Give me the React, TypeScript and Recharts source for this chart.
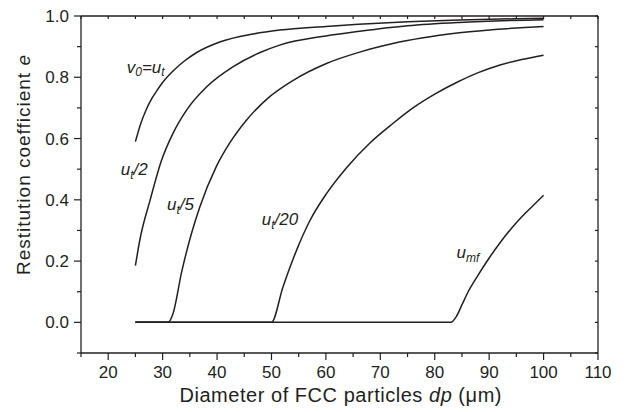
import { LineChart, Line, XAxis, YAxis, ReferenceDot } from "recharts";

const INK = "#231f20";
const FONT = "'Liberation Sans', Arial, Helvetica, sans-serif";

// v0 = ut
const dpA = [25, 26, 27, 28, 29, 30, 32, 34, 36.2, 40.5, 46.6, 51.5, 60, 66, 75, 84.5, 92, 100];
const eA = [0.59, 0.65, 0.695, 0.73, 0.758, 0.783, 0.822, 0.853, 0.88, 0.915, 0.941, 0.954, 0.966, 0.973, 0.981, 0.987, 0.99, 0.993];

// ut/2
const dpB = [25, 25.8, 27.7, 29.8, 31.9, 34.4, 38.1, 42.9, 47.8, 51.5, 60, 66.2, 75, 84.5, 100];
const eB = [0.185, 0.268, 0.399, 0.529, 0.617, 0.693, 0.769, 0.834, 0.88, 0.905, 0.935, 0.95, 0.968, 0.979, 0.988];

// ut/5
const dpC = [25, 31, 31.9, 33.5, 35.3, 36.8, 39.9, 42.3, 45.4, 49.1, 54, 60.1, 66.2, 72.3, 84.5, 100];
const eC = [0, 0, 0.028, 0.165, 0.29, 0.375, 0.51, 0.585, 0.66, 0.728, 0.79, 0.845, 0.882, 0.91, 0.945, 0.966];

// ut/20
const dpD = [25, 50, 52.1, 54.6, 57, 60.1, 63.8, 68, 72.3, 76, 80, 84, 88, 92, 96, 100];
const eD = [0, 0, 0.115, 0.235, 0.33, 0.42, 0.505, 0.584, 0.649, 0.7, 0.745, 0.783, 0.815, 0.84, 0.858, 0.872];

// umf
const dpE = [25, 83, 83.9, 85.1, 86, 88, 90, 92, 94, 96, 98, 100];
const eE = [0, 0, 0.017, 0.061, 0.095, 0.155, 0.21, 0.26, 0.305, 0.345, 0.38, 0.415];

const xTicks = [15, 20, 25, 30, 35, 40, 45, 50, 55, 60, 65, 70, 75, 80, 85, 90, 95, 100, 105, 110];
const yTicks = [-0.1, 0, 0.1, 0.2, 0.3, 0.4, 0.5, 0.6, 0.7, 0.8, 0.9, 1.0];

type Part = { t: string; sub?: boolean };

const curveLabels: { dp: number; e: number; parts: Part[] }[] = [
  { dp: 23.4, e: 0.814, parts: [{ t: "v" }, { t: "0", sub: true }, { t: "=" }, { t: "u" }, { t: "t", sub: true }] },
  { dp: 22.3, e: 0.48, parts: [{ t: "u" }, { t: "t", sub: true }, { t: "/2" }] },
  { dp: 30.8, e: 0.366, parts: [{ t: "u" }, { t: "t", sub: true }, { t: "/5" }] },
  { dp: 48.2, e: 0.317, parts: [{ t: "u" }, { t: "t", sub: true }, { t: "/20" }] },
  { dp: 84, e: 0.209, parts: [{ t: "u" }, { t: "mf", sub: true }] },
];

function zip(dp: number[], e: number[]) {
  return dp.map((d, i) => ({ dp: d, e: e[i] }));
}

const series = [zip(dpA, eA), zip(dpB, eB), zip(dpC, eC), zip(dpD, eD), zip(dpE, eE)];

function CurveLabel({ viewBox, parts }: any) {
  const x = viewBox.x + viewBox.width / 2;
  const y = viewBox.y + viewBox.height / 2;
  let shift = 0;
  return (
    <text x={x} y={y} fontSize={17} fontStyle="italic" fill={INK} fontFamily={FONT}>
      {parts.map((p: Part, i: number) => {
        const target = p.sub ? 3.5 : 0;
        const dy = target - shift;
        shift = target;
        return (
          <tspan key={i} dy={dy} fontSize={p.sub ? 12 : 17}>
            {p.t}
          </tspan>
        );
      })}
    </text>
  );
}

function BottomTick({ x, y, payload }: any) {
  const v = payload.value;
  const major = v % 10 === 0;
  return (
    <g>
      <line x1={x} x2={x} y1={y} y2={y + (major ? 7 : 4)} stroke={INK} strokeWidth={1.2} />
      {major && (
        <text x={x} y={y + 25} textAnchor="middle" fontSize={17} fill={INK} fontFamily={FONT}>
          {v}
        </text>
      )}
    </g>
  );
}

function LeftTick({ x, y, payload }: any) {
  const v = payload.value;
  const major = Math.round(v * 10) % 2 === 0;
  return (
    <g>
      <line x1={x - (major ? 7 : 4)} x2={x} y1={y} y2={y} stroke={INK} strokeWidth={1.2} />
      {major && (
        <text x={x - 12} y={y + 6} textAnchor="end" fontSize={17} fill={INK} fontFamily={FONT}>
          {v.toFixed(1)}
        </text>
      )}
    </g>
  );
}

function TopTick({ x, y }: any) {
  return <line x1={x} x2={x} y1={y} y2={y + 3} stroke={INK} strokeWidth={1.2} />;
}

function RightTick({ x, y }: any) {
  return <line x1={x - 3} x2={x} y1={y} y2={y} stroke={INK} strokeWidth={1.2} />;
}

function XTitle({ viewBox }: any) {
  const cx = viewBox.x + viewBox.width / 2 + 1;
  return (
    <text
      x={cx}
      y={viewBox.y + 49}
      textAnchor="middle"
      fontSize={20}
      fill={INK}
      fontFamily={FONT}
      textLength={322}
      lengthAdjust="spacing"
    >
      Diameter of FCC particles <tspan fontStyle="italic">dp</tspan> (μm)
    </text>
  );
}

function YTitle({ viewBox }: any) {
  const x = viewBox.x + 30;
  const cy = 165;
  return (
    <text
      x={x}
      y={cy}
      transform={`rotate(-90, ${x}, ${cy})`}
      textAnchor="middle"
      fontSize={19}
      fill={INK}
      fontFamily={FONT}
      textLength={220}
      lengthAdjust="spacing"
    >
      Restitution coefficient <tspan fontStyle="italic">e</tspan>
    </text>
  );
}

export default function App() {
  return (
    <div style={{ position: "absolute", left: 0, top: 0, background: "#fff" }}>
      <LineChart width={627} height={412} margin={{ top: 15, right: 28, bottom: 0, left: 0 }}>
        <XAxis
          dataKey="dp"
          type="number"
          domain={[15, 110]}
          ticks={xTicks}
          interval={0}
          height={59}
          tickSize={0}
          tickMargin={0}
          tickLine={false}
          axisLine={{ stroke: INK, strokeWidth: 1.3 }}
          tick={<BottomTick />}
          allowDataOverflow
          label={<XTitle />}
        />
        <XAxis
          xAxisId="top"
          dataKey="dp"
          orientation="top"
          type="number"
          domain={[15, 110]}
          ticks={xTicks}
          interval={0}
          height={1}
          tickSize={0}
          tickMargin={0}
          tickLine={false}
          axisLine={{ stroke: INK, strokeWidth: 1.3 }}
          tick={<TopTick />}
          allowDataOverflow
        />
        <YAxis
          type="number"
          domain={[-0.1, 1.0]}
          ticks={yTicks}
          interval={0}
          width={81}
          tickSize={0}
          tickMargin={0}
          tickLine={false}
          axisLine={{ stroke: INK, strokeWidth: 1.3 }}
          tick={<LeftTick />}
          allowDataOverflow
          label={<YTitle />}
        />
        <YAxis
          yAxisId="right"
          orientation="right"
          type="number"
          domain={[-0.1, 1.0]}
          ticks={yTicks}
          interval={0}
          width={1}
          tickSize={0}
          tickMargin={0}
          tickLine={false}
          axisLine={{ stroke: INK, strokeWidth: 1.3 }}
          tick={<RightTick />}
          allowDataOverflow
        />
        {series.map((d, i) => (
          <Line
            key={i}
            data={d}
            dataKey="e"
            type="monotone"
            stroke={INK}
            strokeWidth={1.5}
            dot={false}
            isAnimationActive={false}
          />
        ))}
        {/* invisible copy so the top/right frame axes get drawn */}
        <Line
          xAxisId="top"
          yAxisId="right"
          data={series[0]}
          dataKey="e"
          stroke="none"
          dot={false}
          activeDot={false}
          legendType="none"
          isAnimationActive={false}
        />
        {curveLabels.map((l, i) => (
          <ReferenceDot
            key={i}
            x={l.dp}
            y={l.e}
            r={1}
            fill="none"
            stroke="none"
            label={<CurveLabel parts={l.parts} />}
          />
        ))}
      </LineChart>
    </div>
  );
}
